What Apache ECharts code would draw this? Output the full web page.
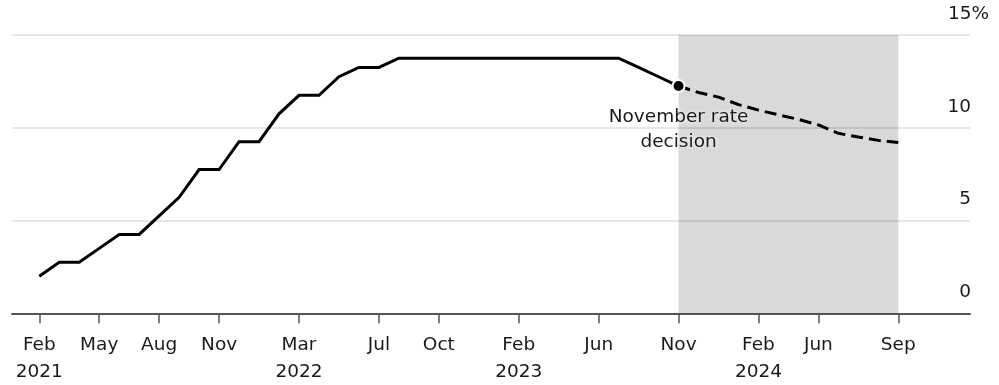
<!DOCTYPE html>
<html lang="en">
<head>
    <meta charset="utf-8" />
    <title>Rate path</title>
    <script src="https://cdn.jsdelivr.net/npm/echarts@6/dist/echarts.min.js"></script>
    <style>
        html, body { margin: 0; padding: 0; background: #fff; }
        #main { width: 999px; height: 385px; }
    </style>
</head>
<body>
    <div id="main"></div>
    <script type="text/javascript">

        // one category per step on the x axis (monthly, the forecast part a bit denser)
        var categories = [
            '2021-02', '2021-03', '2021-04', '2021-05', '2021-06', '2021-07', '2021-08', '2021-09', '2021-10', '2021-11', '2021-12',
            '2022-01', '2022-02', '2022-03', '2022-04', '2022-05', '2022-06', '2022-07', '2022-08', '2022-09', '2022-10', '2022-11', '2022-12',
            '2023-01', '2023-02', '2023-03', '2023-04', '2023-05', '2023-06', '2023-07', '2023-08', '2023-09', '2023-11',
            '2023-12', '2024-01a', '2024-01b', '2024-02', '2024-03', '2024-05', '2024-06', '2024-07', '2024-08a', '2024-08b', '2024-09'
        ];

        var tickIndex = [0, 3, 6, 9, 13, 17, 20, 24, 28, 32, 36, 39, 43];
        var tickText = ['Feb\n2021', 'May', 'Aug', 'Nov', 'Mar\n2022', 'Jul', 'Oct', 'Feb\n2023', 'Jun', 'Nov', 'Feb\n2024', 'Jun', 'Sep'];

        // actual policy rate, Feb 2021 .. Nov 2023
        var actual = [
            2.0, 2.75, 2.75, 3.5, 4.25, 4.25, 5.25, 6.25, 7.75, 7.75, 9.25,
            9.25, 10.75, 11.75, 11.75, 12.75, 13.25, 13.25, 13.75, 13.75, 13.75, 13.75, 13.75,
            13.75, 13.75, 13.75, 13.75, 13.75, 13.75, 13.75, 13.25, 12.75, 12.25
        ];

        // expected path, Nov 2023 .. Sep 2024
        var forecast = [12.25, 11.9, 11.65, 11.25, 10.95, 10.7, 10.45, 10.15, 9.7, 9.5, 9.32, 9.2];

        var decisionIndex = 32;
        var decisionLabel = 'November rate\ndecision';
        var yTicks = [0, 5, 10, 15];

        var actualData = categories.map(function (c, i) { return i < actual.length ? actual[i] : null; });
        var forecastData = categories.map(function (c, i) {
            var k = i - decisionIndex;
            return k >= 0 && k < forecast.length ? forecast[k] : null;
        });

        var FONT = 'DejaVu Sans';
        var FS = 18.5;
        var TEXT = '#1a1a1a';

        var myChart = echarts.init(document.getElementById('main'), null, { renderer: 'canvas' });

        var option = {
            animation: false,
            backgroundColor: '#fff',
            grid: [
                { left: 12, right: 29, top: 35, bottom: 71.7, containLabel: false, outerBoundsMode: 'none' },
                { left: 39.3, right: 100.7, top: 35, bottom: 71.7, containLabel: false, outerBoundsMode: 'none' }
            ],
            xAxis: [
                {
                    // wide frame: only the base line
                    type: 'value',
                    gridIndex: 0,
                    min: 0,
                    max: 1,
                    axisLine: { show: true, lineStyle: { color: '#555', width: 2 } },
                    axisTick: { show: false },
                    axisLabel: { show: false },
                    splitLine: { show: false }
                },
                {
                    type: 'category',
                    gridIndex: 1,
                    data: categories,
                    boundaryGap: false,
                    axisLine: { show: false },
                    axisTick: {
                        show: true,
                        length: 10,
                        interval: function (i) { return tickIndex.indexOf(i) >= 0; },
                        lineStyle: { color: '#555', width: 1.5 }
                    },
                    axisLabel: {
                        show: true,
                        margin: 18,
                        interval: function (i) { return tickIndex.indexOf(i) >= 0; },
                        formatter: function (v, i) {
                            var k = tickIndex.indexOf(i);
                            return k >= 0 ? tickText[k] : '';
                        },
                        color: TEXT,
                        fontFamily: FONT,
                        fontSize: FS,
                        lineHeight: 27
                    },
                    splitLine: { show: false }
                }
            ],
            yAxis: [
                {
                    type: 'value',
                    gridIndex: 0,
                    position: 'right',
                    min: 0,
                    max: 15,
                    interval: 5,
                    axisLine: { show: false },
                    axisTick: { show: false },
                    splitLine: { show: true, lineStyle: { color: '#dedede', width: 1.5 } },
                    axisLabel: {
                        inside: true,
                        margin: -19,
                        align: 'right',
                        verticalAlign: 'bottom',
                        padding: [0, 0, 11, 0],
                        color: TEXT,
                        fontFamily: FONT,
                        fontSize: FS,
                        lineHeight: 20,
                        // the % of the top label hangs past the grid edge, numbers end at it
                        formatter: function (v) {
                            return v === yTicks[yTicks.length - 1] ? v + '%' : v + '{sp| }';
                        },
                        rich: {
                            sp: { width: 18, fontFamily: FONT, fontSize: FS, lineHeight: 20 }
                        }
                    }
                },
                {
                    type: 'value',
                    gridIndex: 1,
                    min: 0,
                    max: 15,
                    interval: 5,
                    show: false
                }
            ],
            series: [
                {
                    name: 'Actual',
                    type: 'line',
                    xAxisIndex: 1,
                    yAxisIndex: 1,
                    data: actualData,
                    symbol: 'none',
                    z: 3,
                    lineStyle: { color: '#000', width: 3, join: 'miter' },
                    markArea: {
                        silent: true,
                        itemStyle: { color: 'rgba(0,0,0,0.15)' },
                        data: [[{ xAxis: categories[decisionIndex] }, { xAxis: categories[categories.length - 1] }]]
                    }
                },
                {
                    name: 'Forecast',
                    type: 'line',
                    xAxisIndex: 1,
                    yAxisIndex: 1,
                    data: forecastData,
                    symbol: 'none',
                    z: 3,
                    lineStyle: { color: '#000', width: 3, type: [12, 6] }
                },
                {
                    name: 'Decision',
                    type: 'scatter',
                    xAxisIndex: 1,
                    yAxisIndex: 1,
                    z: 5,
                    symbolSize: 12,
                    silent: true,
                    itemStyle: { color: '#000', borderColor: '#fff', borderWidth: 2, opacity: 1 },
                    data: [[decisionIndex, actual[decisionIndex]]],
                    label: {
                        show: true,
                        position: 'bottom',
                        distance: 12,
                        formatter: decisionLabel,
                        align: 'center',
                        opacity: 1,
                        color: TEXT,
                        fontFamily: FONT,
                        fontSize: FS,
                        lineHeight: 25,
                        textShadowColor: '#fff',
                        textShadowBlur: 4
                    }
                }
            ]
        };

        myChart.setOption(option, true);

    </script>
</body>
</html>
